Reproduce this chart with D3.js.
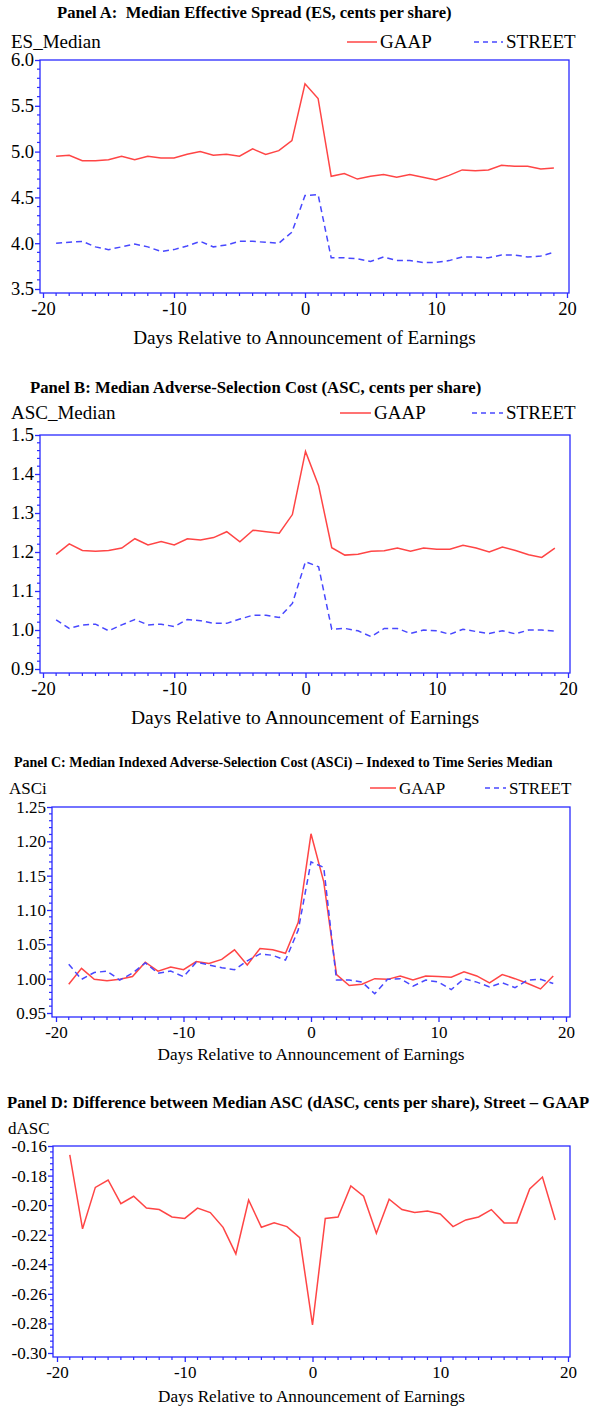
<!DOCTYPE html>
<html>
<head>
<meta charset="utf-8">
<script src="https://cdn.jsdelivr.net/npm/d3@7"></script>
<style>
  body { margin: 0; background: #fff; }
  text { font-family: "Liberation Serif", "Times New Roman", serif; fill: #000; }
  .ttl { font-weight: bold; white-space: pre; }
</style>
</head>
<body>
<div id="chart"></div>
<script>
// days relative to announcement
var days = d3.range(-19, 20);

// Panel A - median effective spread
var esGaap = [4.95, 4.96, 4.90, 4.90, 4.91, 4.95, 4.91, 4.95, 4.93, 4.93,
              4.97, 5.00, 4.96, 4.97, 4.95, 5.03, 4.97, 5.01, 5.12, 5.74,
              5.58, 4.73, 4.76, 4.70, 4.73, 4.75, 4.72, 4.75, 4.72, 4.69,
              4.74, 4.80, 4.79, 4.80, 4.85, 4.84, 4.84, 4.81, 4.82];
var esStreet = [4.00, 4.01, 4.02, 3.96, 3.93, 3.96, 3.99, 3.96, 3.91, 3.93,
                3.97, 4.02, 3.96, 3.98, 4.02, 4.02, 4.01, 4.00, 4.12, 4.52,
                4.53, 3.84, 3.84, 3.83, 3.80, 3.85, 3.81, 3.81, 3.79, 3.79,
                3.81, 3.85, 3.85, 3.84, 3.87, 3.87, 3.85, 3.86, 3.90];

// Panel B - median adverse selection cost
var ascGaap = [1.194, 1.221, 1.204, 1.202, 1.204, 1.210, 1.234, 1.218, 1.227, 1.218,
               1.234, 1.231, 1.237, 1.252, 1.226, 1.256, 1.252, 1.248, 1.296, 1.458,
               1.370, 1.211, 1.192, 1.194, 1.202, 1.203, 1.210, 1.202, 1.210, 1.207,
               1.207, 1.217, 1.210, 1.200, 1.213, 1.204, 1.193, 1.186, 1.210];
var ascStreet = [1.026, 1.004, 1.013, 1.015, 0.998, 1.013, 1.027, 1.013, 1.015, 1.009,
                 1.027, 1.024, 1.017, 1.017, 1.028, 1.038, 1.038, 1.032, 1.068, 1.175,
                 1.162, 1.002, 1.004, 0.998, 0.983, 1.004, 1.004, 0.991, 1.000, 0.998,
                 0.989, 1.002, 0.996, 0.991, 0.998, 0.990, 1.000, 1.000, 0.997];

// Panel C - indexed ASC
var asciGaap = [0.992, 1.015, 0.999, 0.997, 0.999, 1.003, 1.024, 1.011, 1.017, 1.013,
                1.025, 1.022, 1.028, 1.042, 1.020, 1.044, 1.042, 1.037, 1.082, 1.211,
                1.141, 1.006, 0.990, 0.992, 1.000, 0.999, 1.004, 0.998, 1.004, 1.003,
                1.002, 1.010, 1.004, 0.994, 1.006, 1.000, 0.993, 0.985, 1.004];
var asciStreet = [1.021, 0.999, 1.009, 1.011, 0.998, 1.008, 1.023, 1.008, 1.011, 1.003,
                  1.024, 1.020, 1.016, 1.013, 1.026, 1.036, 1.034, 1.027, 1.071, 1.170,
                  1.162, 0.998, 0.998, 0.995, 0.978, 0.999, 1.000, 0.989, 0.998, 0.995,
                  0.984, 1.000, 0.995, 0.988, 0.994, 0.987, 0.998, 0.999, 0.993];

// Panel D - street minus gaap
var dasc = [-0.166, -0.216, -0.188, -0.183, -0.199, -0.194, -0.202, -0.203, -0.208, -0.209,
            -0.202, -0.205, -0.215, -0.233, -0.1965, -0.215, -0.212, -0.2145, -0.222, -0.281,
            -0.209, -0.208, -0.187, -0.194, -0.219, -0.196, -0.203, -0.205, -0.204, -0.206,
            -0.2145, -0.210, -0.208, -0.203, -0.212, -0.212, -0.189, -0.181, -0.210];

var xTicks = [-20, -10, 0, 10, 20];
var esTicks = [3.5, 4.0, 4.5, 5.0, 5.5, 6.0];
var ascTicks = [0.9, 1.0, 1.1, 1.2, 1.3, 1.4, 1.5];
var asciTicks = [0.95, 1.00, 1.05, 1.10, 1.15, 1.20, 1.25];
var dascTicks = [-0.30, -0.28, -0.26, -0.24, -0.22, -0.20, -0.18, -0.16];

var RED = "#ff4545", BLUE = "#4848ff", AXIS = "#2a2aff";

// plain hyphen for negatives, like the original
var loc = d3.formatLocale({ decimal: ".", thousands: ",", grouping: [3], currency: ["$", ""], minus: "-" });

var svg = d3.select("#chart").append("svg")
    .attr("width", 591)
    .attr("height", 1408);

function drawPanel(p) {
  var g = svg.append("g");

  var x = d3.scaleLinear().domain([-20, 20]).range([p.x0, p.x1]);
  var y = d3.scaleLinear().domain([p.yTicks[0], p.yTicks[p.yTicks.length - 1]])
            .range([p.yb, p.yt]);

  // titles
  g.append("text").attr("class", "ttl")
    .attr("x", p.titleX).attr("y", p.titleY)
    .style("font-size", p.titleSize + "px")
    .text(p.title);
  g.append("text")
    .attr("x", p.ylabX).attr("y", p.ylabY)
    .style("font-size", p.labSize + "px")
    .text(p.ylab);

  // frame
  g.append("rect")
    .attr("x", p.fl).attr("y", p.ft)
    .attr("width", p.fr - p.fl).attr("height", p.fb - p.ft)
    .attr("fill", "none").attr("stroke", AXIS).attr("stroke-width", 1.3);

  // y axis ticks
  var yAxis = d3.axisLeft(y).tickValues(p.yTicks).tickSize(5)
      .tickFormat(loc.format(p.fmt));
  var ya = g.append("g").attr("transform", "translate(" + p.fl + ",0)").call(yAxis);
  ya.select(".domain").remove();
  ya.selectAll(".tick line").attr("stroke", AXIS).attr("stroke-width", 1.3);
  ya.selectAll(".tick text").attr("x", -6)
    .style("font-family", "Liberation Serif, serif")
    .style("font-size", p.tickSize + "px").attr("fill", "#000");

  var step = (p.yTicks[1] - p.yTicks[0]) / 5;
  var minorY = [];
  for (var i = 0; i < p.yTicks.length - 1; i++) {
    for (var k = 1; k < 5; k++) minorY.push(p.yTicks[i] + k * step);
  }
  g.selectAll(null).data(minorY).enter().append("line")
    .attr("x1", p.fl - 3).attr("x2", p.fl)
    .attr("y1", function(d) { return y(d); })
    .attr("y2", function(d) { return y(d); })
    .attr("stroke", AXIS).attr("stroke-width", 1.2);

  // x axis
  var xAxis = d3.axisBottom(x).tickValues(xTicks).tickSize(5)
      .tickFormat(loc.format("d"));
  var xa = g.append("g").attr("transform", "translate(0," + p.fb + ")").call(xAxis);
  xa.select(".domain").remove();
  xa.selectAll(".tick line").attr("stroke", AXIS).attr("stroke-width", 1.3);
  xa.selectAll(".tick text").attr("y", 9)
    .style("font-family", "Liberation Serif, serif")
    .style("font-size", p.tickSize + "px").attr("fill", "#000");
  var minorX = d3.range(-19, 20).filter(function(d) { return d % 10 !== 0; });
  g.selectAll(null).data(minorX).enter().append("line")
    .attr("x1", function(d) { return x(d); })
    .attr("x2", function(d) { return x(d); })
    .attr("y1", p.fb).attr("y2", p.fb + 3)
    .attr("stroke", AXIS).attr("stroke-width", 1.2);

  g.append("text")
    .attr("x", (p.fl + p.fr) / 2).attr("y", p.fb + p.xtitleDy)
    .attr("text-anchor", "middle")
    .style("font-size", p.xtitleSize + "px")
    .text("Days Relative to Announcement of Earnings");

  var line = d3.line()
    .x(function(d) { return x(d[0]); })
    .y(function(d) { return y(d[1]); });

  p.series.forEach(function(s) {
    g.append("path")
      .datum(days.map(function(d, i) { return [d, s.values[i]]; }))
      .attr("fill", "none")
      .attr("stroke", s.color)
      .attr("stroke-width", 1.5)
      .attr("stroke-dasharray", s.dash ? "6,4" : null)
      .attr("d", line);
  });

  // legend
  if (p.legend) {
    p.series.forEach(function(s, i) {
      var lg = p.legend[i];
      g.append("line")
        .attr("x1", lg[0]).attr("x2", lg[1])
        .attr("y1", p.ylabY - 6).attr("y2", p.ylabY - 6)
        .attr("stroke", s.color).attr("stroke-width", 1.5)
        .attr("stroke-dasharray", s.dash ? "5,4" : null);
      g.append("text")
        .attr("x", lg[1] + 3).attr("y", p.ylabY)
        .style("font-size", p.labSize + "px")
        .text(s.name);
    });
  }
}

drawPanel({
  title: "Panel A:  Median Effective Spread (ES, cents per share)",
  titleX: 57, titleY: 18, titleSize: 16.6,
  ylab: "ES_Median", ylabX: 11, ylabY: 48, labSize: 19,
  fl: 40, fr: 569, ft: 60, fb: 293,
  x0: 43, x1: 567, yt: 60, yb: 289,
  yTicks: esTicks, fmt: ".1f", tickSize: 18.5,
  xtitleDy: 51, xtitleSize: 19.2,
  series: [{ name: "GAAP", values: esGaap, color: RED },
           { name: "STREET", values: esStreet, color: BLUE, dash: true }],
  legend: [[347, 377], [474, 503]]
});

drawPanel({
  title: "Panel B: Median Adverse-Selection Cost (ASC, cents per share)",
  titleX: 30, titleY: 393, titleSize: 16.7,
  ylab: "ASC_Median", ylabX: 11, ylabY: 419, labSize: 19,
  fl: 40, fr: 570, ft: 435, fb: 673,
  x0: 43, x1: 568, yt: 435, yb: 669,
  yTicks: ascTicks, fmt: ".1f", tickSize: 18.5,
  xtitleDy: 51, xtitleSize: 19.5,
  series: [{ name: "GAAP", values: ascGaap, color: RED },
           { name: "STREET", values: ascStreet, color: BLUE, dash: true }],
  legend: [[340, 371], [472, 503]]
});

drawPanel({
  title: "Panel C: Median Indexed Adverse-Selection Cost (ASCi) \u2013 Indexed to Time Series Median",
  titleX: 14, titleY: 767, titleSize: 14,
  ylab: "ASCi", ylabX: 9, ylabY: 794, labSize: 17,
  fl: 52, fr: 570, ft: 807, fb: 1017,
  x0: 56, x1: 566, yt: 807, yb: 1013,
  yTicks: asciTicks, fmt: ".2f", tickSize: 17,
  xtitleDy: 43, xtitleSize: 17.2,
  series: [{ name: "GAAP", values: asciGaap, color: RED },
           { name: "STREET", values: asciStreet, color: BLUE, dash: true }],
  legend: [[370, 396], [485, 506]]
});

drawPanel({
  title: "Panel D: Difference between Median ASC (dASC, cents per share), Street \u2013 GAAP",
  titleX: 7, titleY: 1108, titleSize: 16.6,
  ylab: "dASC", ylabX: 8, ylabY: 1134, labSize: 17,
  fl: 53, fr: 570, ft: 1146, fb: 1357,
  x0: 57, x1: 568, yt: 1146, yb: 1353,
  yTicks: dascTicks, fmt: ".2f", tickSize: 17,
  xtitleDy: 45, xtitleSize: 17.2,
  series: [{ name: "GAAP", values: dasc, color: RED }],
  legend: null
});
</script>
</body>
</html>
